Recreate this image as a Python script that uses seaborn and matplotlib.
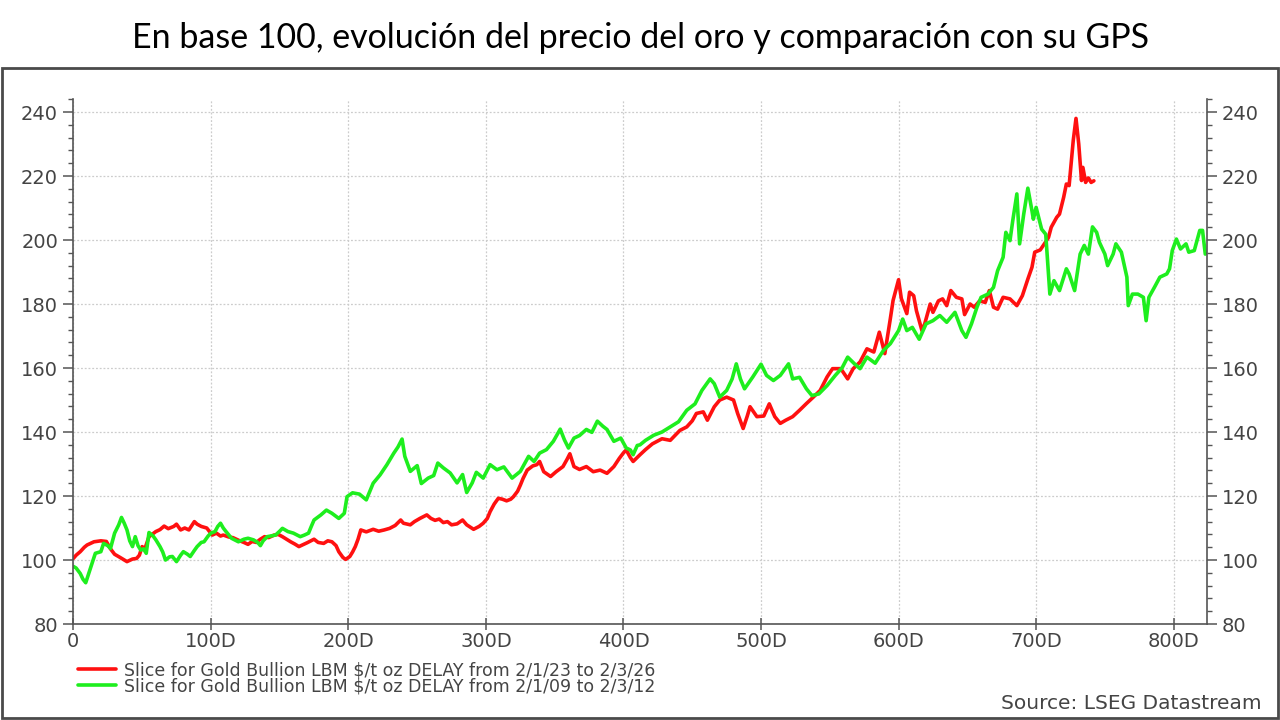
"""Gold price in base 100: 2023-2026 slice vs 2009-2012 slice."""
import matplotlib
matplotlib.use("Agg")
import matplotlib.pyplot as plt
import seaborn as sns
from matplotlib.patches import Rectangle
from matplotlib.ticker import MultipleLocator, FuncFormatter

# 2023-2026 slice (day offset, base-100 value)
red_days = [0, 2, 5, 8, 10, 15, 20, 24, 27, 30, 34, 39, 43, 46, 48, 50, 52, 55, 60, 63,
            66, 69, 73, 75, 78, 81, 84, 88, 90, 93, 97, 101, 104, 107, 109, 113, 116, 121, 124, 127,
            130, 133, 136, 139, 142, 146, 149, 152, 155, 158, 161, 164, 167, 170, 175, 178, 182, 185, 188, 191,
            193, 196, 198, 201, 203, 205, 207, 209, 213, 218, 222, 226, 230, 234, 238, 240, 242, 245, 248, 252,
            257, 260, 263, 266, 269, 272, 275, 279, 283, 286, 291, 295, 298, 301, 303, 306, 309, 312, 315, 318,
            320, 323, 325, 327, 330, 334, 337, 339, 342, 347, 351, 356, 359, 361, 364, 368, 373, 378, 383, 388,
            393, 397, 400, 402, 405, 407, 412, 416, 421, 428, 434, 441, 446, 450, 453, 458, 461, 466, 470, 475,
            480, 483, 487, 490, 492, 497, 502, 506, 510, 514, 518, 523, 528, 533, 538, 543, 548, 552, 558, 563,
            567, 572, 577, 582, 586, 590, 594, 596, 600, 602, 606, 608, 611, 613, 617, 619, 623, 625, 629, 632,
            635, 638, 642, 646, 648, 652, 655, 659, 663, 666, 669, 672, 676, 681, 686, 690, 694, 697, 699, 703,
            706, 709, 711, 715, 717, 720, 722, 724, 727, 729, 731, 732, 733, 734, 736, 738, 740, 742]
red_vals = [100.5, 101.5, 102.6, 104.0, 104.7, 105.7, 106.0, 105.8, 103.5, 101.8, 100.8, 99.5, 100.3, 100.5, 101.5, 104.2, 103.5, 107.3, 108.9, 109.5,
            110.6, 109.8, 110.5, 111.2, 109.4, 110.0, 109.4, 112.0, 111.2, 110.5, 110.0, 107.8, 108.4, 107.5, 107.8, 107.2, 107.0, 106.0, 105.5, 104.9,
            105.8, 105.5, 106.5, 107.3, 107.0, 107.8, 108.0, 107.3, 106.5, 105.7, 105.0, 104.2, 104.8, 105.4, 106.5, 105.5, 105.2, 106.0, 105.7, 104.5,
            102.6, 100.8, 100.2, 101.1, 102.5, 104.2, 106.5, 109.4, 108.8, 109.6, 109.0, 109.4, 109.9, 110.8, 112.5, 111.5, 111.3, 111.0, 112.0, 113.0,
            114.1, 113.0, 112.4, 112.8, 111.7, 112.0, 111.0, 111.3, 112.5, 111.0, 109.6, 110.5, 111.5, 113.0, 115.1, 117.5, 119.3, 119.0, 118.5, 119.0,
            119.8, 121.5, 123.4, 125.5, 128.1, 129.4, 129.8, 130.8, 127.6, 126.1, 127.6, 129.2, 131.5, 133.2, 129.2, 128.3, 129.2, 127.6, 128.1, 127.1,
            129.2, 131.8, 133.5, 134.4, 132.0, 130.8, 132.9, 134.5, 136.3, 137.9, 137.4, 140.5, 141.6, 143.5, 145.8, 146.3, 143.7, 147.9, 150.0, 150.9,
            150.0, 145.8, 141.1, 145.0, 147.9, 144.8, 145.0, 148.8, 144.8, 142.7, 143.7, 144.8, 146.8, 148.9, 150.9, 153.0, 157.2, 159.8, 159.8, 156.6,
            159.8, 161.9, 166.0, 165.0, 171.2, 164.5, 175.4, 181.1, 187.6, 181.7, 177.0, 183.7, 182.6, 177.9, 171.7, 173.8, 180.0, 177.4, 181.0, 181.6,
            179.5, 184.2, 182.1, 181.6, 176.7, 180.0, 179.0, 181.0, 180.5, 184.2, 179.0, 178.4, 182.1, 181.6, 179.5, 182.6, 187.8, 191.5, 196.2, 196.9,
            198.8, 200.8, 204.0, 207.1, 208.1, 213.3, 217.5, 217.0, 231.1, 238.0, 230.0, 224.3, 218.6, 222.7, 218.0, 219.4, 218.0, 218.5]

# 2009-2012 slice
green_days = [0, 2, 5, 7, 9, 12, 14, 16, 20, 22, 25, 27, 30, 33, 35, 37, 39, 41, 43, 45,
              47, 49, 51, 53, 55, 58, 60, 63, 65, 67, 70, 72, 75, 78, 80, 83, 85, 88, 90, 93,
              95, 98, 100, 103, 105, 107, 109, 111, 115, 120, 124, 127, 131, 134, 136, 138, 141, 147, 150, 152,
              156, 160, 165, 168, 171, 173, 175, 180, 184, 188, 193, 197, 199, 203, 208, 213, 218, 223, 228, 233,
              236, 239, 241, 245, 250, 253, 258, 262, 265, 269, 274, 279, 283, 286, 290, 293, 298, 303, 308, 313,
              319, 325, 331, 335, 339, 344, 349, 354, 357, 360, 364, 368, 373, 377, 381, 385, 388, 393, 398, 402,
              405, 407, 410, 412, 416, 422, 428, 434, 440, 446, 452, 457, 463, 466, 470, 475, 479, 482, 485, 488,
              494, 500, 504, 509, 514, 520, 523, 528, 533, 537, 542, 548, 554, 559, 563, 568, 572, 577, 583, 589,
              594, 600, 603, 606, 610, 615, 620, 625, 630, 635, 641, 646, 649, 653, 657, 660, 665, 669, 672, 676,
              678, 681, 683, 686, 688, 691, 694, 697, 698, 700, 704, 707, 710, 713, 717, 722, 724, 728, 732, 735,
              738, 741, 744, 746, 750, 752, 756, 758, 762, 766, 767, 770, 774, 778, 780, 782, 786, 790, 795, 797,
              799, 802, 805, 809, 811, 815, 819, 821, 823]
green_vals = [98.0, 97.5, 95.8, 94.0, 92.9, 96.9, 99.5, 102.1, 102.6, 105.2, 104.5, 103.6, 108.4, 111.0, 113.3, 111.5, 109.4, 106.0, 104.2, 107.3,
              104.5, 103.1, 103.5, 102.1, 108.6, 107.5, 106.3, 104.2, 102.5, 100.0, 101.0, 101.1, 99.5, 101.5, 102.6, 101.8, 101.1, 103.0, 104.2, 105.5,
              105.7, 107.5, 108.4, 108.9, 110.5, 111.5, 110.0, 108.9, 106.8, 105.7, 106.5, 106.8, 106.3, 105.5, 104.5, 106.0, 107.3, 107.8, 109.0, 109.9,
              108.9, 108.4, 107.3, 107.8, 108.4, 110.5, 112.5, 114.1, 115.6, 114.6, 113.0, 114.6, 119.8, 121.0, 120.6, 118.8, 124.0, 126.6, 129.8, 133.4,
              135.3, 137.8, 132.4, 127.7, 129.5, 123.9, 125.6, 126.4, 130.3, 128.8, 127.2, 124.1, 126.7, 121.1, 124.1, 127.4, 125.6, 129.8, 128.2, 129.1,
              125.6, 127.7, 132.4, 130.8, 133.4, 134.5, 137.1, 140.9, 137.6, 135.0, 138.1, 138.9, 140.8, 139.9, 143.4, 141.8, 140.8, 137.1, 138.1, 135.0,
              134.4, 132.9, 135.8, 136.0, 137.4, 139.0, 140.0, 141.6, 143.2, 146.8, 148.8, 153.0, 156.6, 155.1, 150.9, 153.0, 156.6, 161.3, 156.6, 153.5,
              157.2, 161.2, 157.7, 156.1, 157.7, 161.3, 156.6, 157.1, 153.5, 151.4, 151.9, 154.5, 157.7, 160.1, 163.4, 161.3, 159.8, 163.4, 161.5, 165.5,
              167.6, 171.7, 175.3, 171.7, 172.7, 169.0, 173.8, 174.8, 176.4, 174.3, 177.4, 171.7, 169.6, 173.8, 179.0, 182.1, 183.1, 185.2, 190.4, 194.6,
              202.4, 199.8, 206.0, 214.4, 198.8, 208.1, 216.2, 209.1, 206.5, 210.2, 203.4, 201.8, 183.1, 187.3, 184.2, 191.0, 189.4, 184.2, 195.6, 198.3,
              195.6, 204.1, 202.4, 199.3, 195.6, 192.0, 195.6, 198.8, 196.2, 188.4, 179.5, 183.1, 183.1, 182.1, 174.8, 182.1, 185.2, 188.4, 189.4, 191.0,
              196.7, 200.3, 197.2, 198.8, 196.2, 196.7, 203.0, 203.0, 195.6]

red_label = "Slice for Gold Bullion LBM $/t oz DELAY from 2/1/23 to 2/3/26"
green_label = "Slice for Gold Bullion LBM $/t oz DELAY from 2/1/09 to 2/3/12"
title = "En base 100, evolución del precio del oro y comparación con su GPS"
source = "Source: LSEG Datastream"

sns.set_style("white")
plt.rcParams["font.family"] = ["DejaVu Sans"]

fig = plt.figure(figsize=(12.8, 7.2), dpi=100)
ax = fig.add_axes([0.0573, 0.1333, 0.8854, 0.7289])

sns.lineplot(x=red_days, y=red_vals, ax=ax, color="#FF1010", linewidth=2.6, label=red_label)
sns.lineplot(x=green_days, y=green_vals, ax=ax, color="#1EEE1E", linewidth=2.6, label=green_label)

ax.set_xlim(0, 824)
ax.set_ylim(80, 244)
ax.set_yticks(range(80, 241, 20))
ax.yaxis.set_minor_locator(MultipleLocator(4))
ax.xaxis.set_major_locator(MultipleLocator(100))
ax.xaxis.set_major_formatter(FuncFormatter(lambda v, p: "0" if v == 0 else f"{int(v)}D"))
ax.set_xlabel("")
ax.set_ylabel("")

ax.grid(True, which="major", color="#cccccc", linestyle=(0, (1.5, 1.5)), linewidth=0.9)
for side in ["left", "right", "bottom"]:
    ax.spines[side].set_visible(True)
    ax.spines[side].set_color("#555555")
    ax.spines[side].set_linewidth(1.2)
ax.spines["top"].set_visible(False)

ax.tick_params(axis="y", which="both", left=True, right=True, labelleft=True, labelright=True,
               direction="out", color="#555555", labelcolor="#444444", labelsize=14)
ax.tick_params(axis="y", which="major", length=7, width=1.1, pad=4)
ax.tick_params(axis="y", which="minor", length=3.5, width=1)
ax.tick_params(axis="x", which="major", bottom=True, direction="inout", length=9, width=1.1,
               color="#555555", labelcolor="#444444", labelsize=14, pad=1)

ax.legend(loc="upper left", bbox_to_anchor=(0.054, 0.094), bbox_transform=fig.transFigure,
          frameon=False, fontsize=12.5, handlelength=2.2, handletextpad=0.45, labelspacing=-0.1,
          borderpad=0, labelcolor="#444444")

fig.text(0.5, 0.947, title, ha="center", va="center", fontsize=24.5, family=["Lato", "DejaVu Sans"], color="black")
fig.text(0.986, 0.01, source, ha="right", va="bottom", fontsize=14.5, color="#444444")
fig.patches.append(Rectangle((0.0016, 0.0028), 0.9968, 0.9027, transform=fig.transFigure,
                             fill=False, edgecolor="#4a4a4a", linewidth=2))

fig.savefig("out.png", dpi=100)
